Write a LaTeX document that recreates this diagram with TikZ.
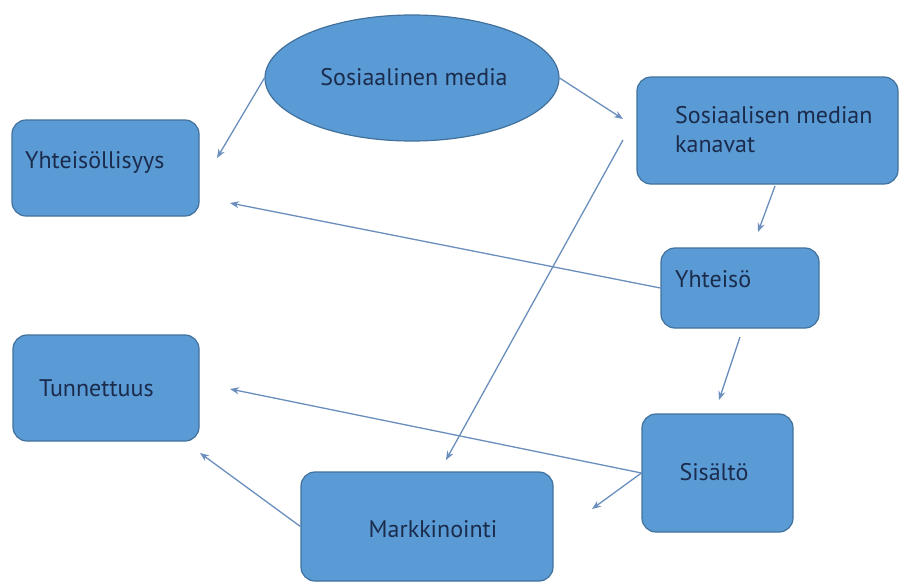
\documentclass[tikz,border=0pt]{standalone}
\usepackage{fontspec}
\setmainfont{PT Sans}
\usetikzlibrary{shapes.geometric,arrows.meta}
\definecolor{boxfill}{HTML}{5B9BD5}
\definecolor{boxline}{HTML}{41719C}
\definecolor{arrowcol}{HTML}{6A8FBD}
\definecolor{txt}{HTML}{1A2B4C}
\begin{document}
\begin{tikzpicture}[x=1pt,y=-1pt,
  shapebox/.style={draw=boxline,fill=boxfill,line width=1.2pt,rounded corners=14pt,inner sep=0pt},
  oval/.style={ellipse,draw=boxline,fill=boxfill,line width=1.2pt,inner sep=0pt},
  lbl/.style={text=txt,font=\fontsize{24}{28}\selectfont,inner sep=0pt},
  arr/.style={draw=arrowcol,line width=1.3pt,-{Stealth[length=9pt,width=7pt]}}]
\useasboundingbox[fill=white] (0,0) rectangle (902,584);
% shapes
\node[oval,minimum width=294pt,minimum height=126pt] (sm) at (412,78) {};
\node[shapebox,minimum width=187pt,minimum height=96pt] (yl) at (105.5,168) {};
\node[shapebox,minimum width=261pt,minimum height=107pt] (kan) at (767.5,130.5) {};
\node[shapebox,minimum width=158pt,minimum height=80pt] (yh) at (740,288) {};
\node[shapebox,minimum width=186pt,minimum height=106pt] (tun) at (106,388) {};
\node[shapebox,minimum width=252pt,minimum height=109pt] (mar) at (427,526.5) {};
\node[shapebox,minimum width=151pt,minimum height=118pt] (sis) at (717.5,473) {};
% labels
\node[lbl,anchor=base] (tsm) at (414,85) {Sosiaalinen media};
\node[lbl,anchor=base west] (tyl) at (25,168) {Yhteisöllisyys};
\node[lbl,anchor=base west] (tkan1) at (675,123) {Sosiaalisen median};
\node[lbl,anchor=base west] (tkan2) at (675,152) {kanavat};
\node[lbl,anchor=base west] (tyh) at (675,287) {Yhteisö};
\node[lbl,anchor=base west] (ttun) at (39,396) {Tunnettuus};
\node[lbl,anchor=base] (tmar) at (433,537) {Markkinointi};
\node[lbl,anchor=base] (tsis) at (714,480) {Sisältö};
% free ends of connectors
\coordinate (e1) at (217,158);
\coordinate (e2) at (623,119);
\coordinate (s3) at (775,186);
\coordinate (e3) at (758,232);
\coordinate (s4) at (623,140);
\coordinate (e4) at (446,460);
\coordinate (e5) at (230,203);
\coordinate (s6) at (740,337);
\coordinate (e6) at (719,400);
\coordinate (e7) at (592,509);
\coordinate (e8) at (230,389);
\coordinate (e9) at (200,453);
% connectors
\draw[arr] (sm.west) -- (e1);
\draw[arr] (sm.east) -- (e2);
\draw[arr] (s3) -- (e3);
\draw[arr] (s4) -- (e4);
\draw[arr] (yh.west) -- (e5);
\draw[arr] (s6) -- (e6);
\draw[arr] (sis.west) -- (e7);
\draw[arr] (sis.west) -- (e8);
\draw[arr] (mar.west) -- (e9);
\end{tikzpicture}
\end{document}
